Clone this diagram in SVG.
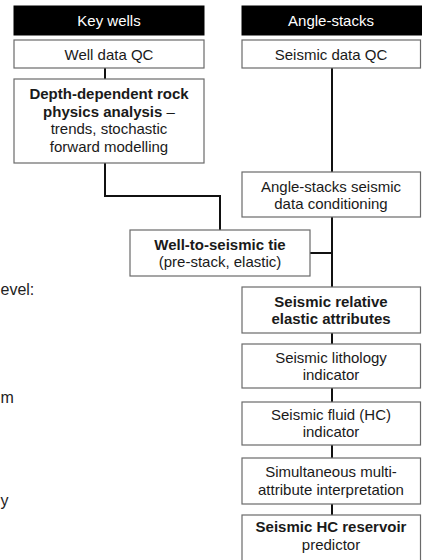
<svg xmlns="http://www.w3.org/2000/svg" width="422" height="560" viewBox="0 0 422 560">
<style>
.box{fill:#fff;stroke:#6a6a6a;stroke-width:1.2}
.hdr{fill:#000;stroke:#000;stroke-width:1}
text{font-family:"Liberation Sans",Arial,sans-serif;font-size:15px;fill:#1a1a1a;text-anchor:middle}
.w{fill:#fff}
.b{font-weight:bold}
.side{font-size:16px;text-anchor:start;fill:#222}
.con{fill:none;stroke:#111;stroke-width:2}
</style>
<rect width="422" height="560" fill="#fff"/>
<g id="connectors">
<line class="con" x1="105" y1="68" x2="105" y2="79"/>
<polyline class="con" points="105,163 105,196 220,196 220,230"/>
<line class="con" x1="332" y1="68" x2="332" y2="172"/>
<line class="con" x1="332" y1="217" x2="332" y2="287"/>
<line class="con" x1="310" y1="253" x2="332" y2="253"/>
<line class="con" x1="332" y1="333" x2="332" y2="344"/>
<line class="con" x1="332" y1="388" x2="332" y2="402"/>
<line class="con" x1="332" y1="445" x2="332" y2="458"/>
<line class="con" x1="332" y1="504" x2="332" y2="515"/>
</g>
<g id="key-wells"><rect class="hdr" x="14" y="6" width="190" height="29"/><text class="w" x="109" y="26">Key wells</text></g>
<g id="angle-stacks"><rect class="hdr" x="242" y="6" width="180" height="29"/><text class="w" x="331" y="26">Angle-stacks</text></g>
<g id="well-data-qc"><rect class="box" x="14" y="40" width="190" height="28"/><text x="109" y="59.5">Well data QC</text></g>
<g id="seismic-data-qc"><rect class="box" x="242" y="40" width="178.5" height="28"/><text x="331" y="59.5">Seismic data QC</text></g>
<g id="rock-physics"><rect class="box" x="14" y="79" width="190" height="84"/>
<text x="109" y="99" class="b">Depth-dependent rock</text>
<text x="109" y="116.5"><tspan class="b">physics analysis</tspan> –</text>
<text x="109" y="134">trends, stochastic</text>
<text x="109" y="151.5">forward modelling</text></g>
<g id="conditioning"><rect class="box" x="242" y="172" width="178.5" height="45"/><text x="331" y="191.5">Angle-stacks seismic</text><text x="331" y="208.5">data conditioning</text></g>
<g id="well-tie"><rect class="box" x="130" y="230" width="180" height="46"/><text x="220" y="249.5" class="b">Well-to-seismic tie</text><text x="220" y="267">(pre-stack, elastic)</text></g>
<g id="elastic"><rect class="box" x="242" y="287" width="178.5" height="46"/><text x="331" y="306.5" class="b">Seismic relative</text><text x="331" y="324" class="b">elastic attributes</text></g>
<g id="lithology"><rect class="box" x="242" y="344" width="178.5" height="44"/><text x="331" y="362.5">Seismic lithology</text><text x="331" y="380">indicator</text></g>
<g id="fluid"><rect class="box" x="242" y="402" width="178.5" height="43"/><text x="331" y="420">Seismic fluid (HC)</text><text x="331" y="437">indicator</text></g>
<g id="multi"><rect class="box" x="242" y="458" width="178.5" height="46"/><text x="331" y="477">Simultaneous multi-</text><text x="331" y="495">attribute interpretation</text></g>
<g id="predictor"><rect class="box" x="242" y="515" width="178.5" height="60"/><text x="331" y="532" class="b">Seismic HC reservoir</text><text x="331" y="550">predictor</text></g>
<g id="side-text">
<text class="side" x="0.5" y="295">evel:</text>
<text class="side" x="0.5" y="403">m</text>
<text class="side" x="0.5" y="506">y</text>
</g>
</svg>
